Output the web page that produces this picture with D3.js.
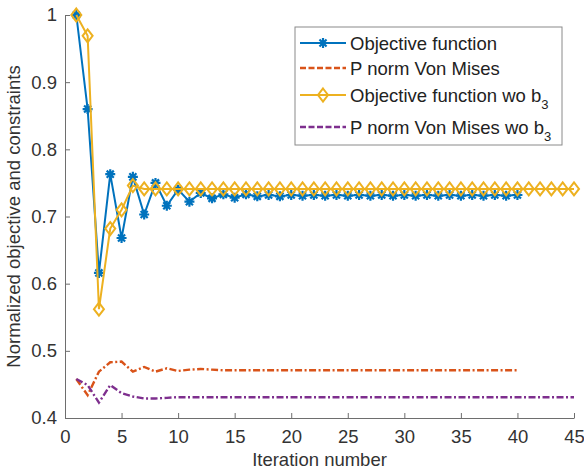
<!DOCTYPE html>
<html>
<head>
<meta charset="utf-8">
<script src="https://cdn.jsdelivr.net/npm/d3@7"></script>
<style>
  body { margin: 0; background: #fff; }
  svg { font-family: "Liberation Sans", Arial, sans-serif; }
</style>
</head>
<body>
<div id="chart"></div>
<script>
// values, index i -> iteration i+1
var objective = [1.0, 0.86, 0.616, 0.763, 0.668, 0.759, 0.703, 0.750, 0.716, 0.740,
                 0.722, 0.735, 0.727, 0.733, 0.728, 0.733, 0.730, 0.732, 0.730, 0.732,
                 0.731, 0.732, 0.731, 0.732, 0.731, 0.732, 0.731, 0.732, 0.731, 0.732,
                 0.731, 0.732, 0.731, 0.732, 0.731, 0.732, 0.731, 0.732, 0.731, 0.732];
var pnorm = [0.458, 0.434, 0.469, 0.483, 0.484, 0.469, 0.476, 0.469, 0.474, 0.470,
             0.472, 0.473, 0.472, 0.471, 0.471, 0.471, 0.471, 0.471, 0.471, 0.471,
             0.471, 0.471, 0.471, 0.471, 0.471, 0.471, 0.471, 0.471, 0.471, 0.471,
             0.471, 0.471, 0.471, 0.471, 0.471, 0.471, 0.471, 0.471, 0.471, 0.471];
var objectiveWo = [1.0, 0.969, 0.562, 0.682, 0.710, 0.746, 0.741, 0.741, 0.741, 0.741,
                   0.741, 0.741, 0.741, 0.741, 0.741, 0.741, 0.741, 0.741, 0.741, 0.741,
                   0.741, 0.741, 0.741, 0.741, 0.741, 0.741, 0.741, 0.741, 0.741, 0.741,
                   0.741, 0.741, 0.741, 0.741, 0.741, 0.741, 0.741, 0.741, 0.741, 0.741,
                   0.741, 0.741, 0.741, 0.741, 0.741];
var pnormWo = [0.458, 0.449, 0.423, 0.449, 0.437, 0.432, 0.429, 0.429, 0.430, 0.431,
               0.431, 0.431, 0.431, 0.431, 0.431, 0.431, 0.431, 0.431, 0.431, 0.431,
               0.431, 0.431, 0.431, 0.431, 0.431, 0.431, 0.431, 0.431, 0.431, 0.431,
               0.431, 0.431, 0.431, 0.431, 0.431, 0.431, 0.431, 0.431, 0.431, 0.431,
               0.431, 0.431, 0.431, 0.431, 0.431];
var xTicks = [0, 5, 10, 15, 20, 25, 30, 35, 40, 45];
var yTicks = [0.4, 0.5, 0.6, 0.7, 0.8, 0.9, 1];

var dashDot = "7,2.5,2,2.5";
var series = [
  {name: "Objective function", sub: null, values: objective, color: "#0072BD", dash: null, marker: "star"},
  {name: "P norm Von Mises", sub: null, values: pnorm, color: "#D95319", dash: dashDot, marker: null},
  {name: "Objective function wo b", sub: "3", values: objectiveWo, color: "#EDB120", dash: null, marker: "diamond"},
  {name: "P norm Von Mises wo b", sub: "3", values: pnormWo, color: "#7E2F8E", dash: dashDot, marker: null}
];

var W = 584, H = 473;
var margin = {top: 15, right: 10, bottom: 55, left: 65};
var width = W - margin.left - margin.right,
    height = H - margin.top - margin.bottom;

var svg = d3.select("#chart").append("svg").attr("width", W).attr("height", H);
var g = svg.append("g").attr("transform", "translate(" + margin.left + "," + margin.top + ")");

var x = d3.scaleLinear().domain([0, 45]).range([0, width]);
var y = d3.scaleLinear().domain([0.4, 1]).range([height, 0]);

var axisColor = "#6e6e6e", textColor = "#333";

var xAxis = g.append("g")
    .attr("transform", "translate(0," + height + ")")
    .call(d3.axisBottom(x).tickValues(xTicks).tickSizeInner(-5).tickSizeOuter(0).tickPadding(12));
var yAxis = g.append("g")
    .call(d3.axisLeft(y).tickValues(yTicks).tickFormat(d3.format("")).tickSizeInner(-5).tickSizeOuter(0).tickPadding(8));
[xAxis, yAxis].forEach(function(a) {
  a.select(".domain").attr("stroke", axisColor);
  a.selectAll(".tick line").attr("stroke", axisColor);
  a.selectAll(".tick text").attr("fill", textColor).style("font-size", "18.5px");
});

g.append("text")
  .attr("x", width / 2).attr("y", height + 48)
  .attr("text-anchor", "middle").attr("fill", textColor).style("font-size", "18.5px")
  .text("Iteration number");
g.append("text")
  .attr("transform", "translate(" + (-45) + "," + (height / 2) + ") rotate(-90)")
  .attr("text-anchor", "middle").attr("fill", textColor).style("font-size", "18.5px")
  .text("Normalized objective and constraints");

var line = d3.line()
  .x(function(d, i) { return x(i + 1); })
  .y(function(d) { return y(d); });

function starPath(r) {
  var p = "";
  [0, 45, 90, 135].forEach(function(a) {
    var t = a * Math.PI / 180, dx = r * Math.cos(t), dy = r * Math.sin(t);
    p += "M" + (-dx) + "," + (-dy) + "L" + dx + "," + dy;
  });
  return p;
}
function diamondPath(hw, hh) {
  return "M0," + (-hh) + "L" + hw + ",0L0," + hh + "L" + (-hw) + ",0Z";
}
function drawMarker(sel, s) {
  if (s.marker === "star") {
    sel.append("path").attr("d", starPath(5)).attr("stroke", s.color).attr("stroke-width", 2.2).attr("fill", "none");
  } else if (s.marker === "diamond") {
    sel.append("path").attr("d", diamondPath(5, 6.5)).attr("stroke", s.color).attr("stroke-width", 2).attr("fill", "none");
  }
}

series.forEach(function(s) {
  var sg = g.append("g");
  sg.append("path")
    .datum(s.values)
    .attr("d", line)
    .attr("fill", "none")
    .attr("stroke", s.color)
    .attr("stroke-width", s.dash ? 2.4 : 2)
    .attr("stroke-dasharray", s.dash);
  if (s.marker) {
    sg.selectAll(".m").data(s.values).enter().append("g")
      .attr("transform", function(d, i) { return "translate(" + x(i + 1) + "," + y(d) + ")"; })
      .each(function() { drawMarker(d3.select(this), s); });
  }
});

// legend
var lg = svg.append("g").attr("transform", "translate(295,27)");
lg.append("rect").attr("width", 267).attr("height", 118)
  .attr("fill", "#fff").attr("stroke", "#8a8a8a").attr("stroke-width", 1);
var rowsY = [16, 41, 68, 100];
series.forEach(function(s, i) {
  var row = lg.append("g").attr("transform", "translate(0," + rowsY[i] + ")");
  row.append("line").attr("x1", 5).attr("x2", 51).attr("y1", 0).attr("y2", 0)
    .attr("stroke", s.color).attr("stroke-width", s.dash ? 2.4 : 2)
    .attr("stroke-dasharray", s.dash ? "6,2.5" : null);
  if (s.marker) {
    var mg = row.append("g").attr("transform", "translate(28,0)");
    drawMarker(mg, s);
  }
  var t = row.append("text").attr("x", 55).attr("y", 6.5)
    .attr("fill", "#222").style("font-size", "18.5px").text(s.name);
  if (s.sub) {
    t.append("tspan").attr("dy", 7).style("font-size", "13px").text(s.sub);
  }
});
</script>
</body>
</html>
